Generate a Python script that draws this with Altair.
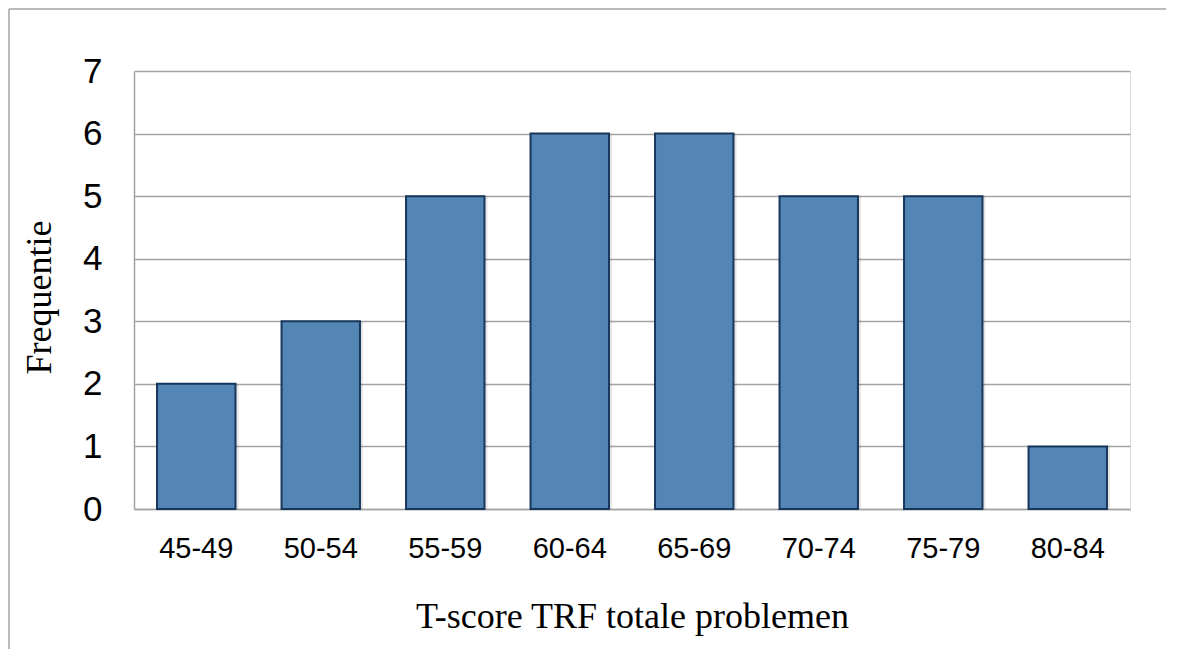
import altair as alt
import pandas as pd

categories = ["45-49", "50-54", "55-59", "60-64", "65-69", "70-74", "75-79", "80-84"]
frequencies = [2, 3, 5, 6, 6, 5, 5, 1]
y_ticks = [0, 1, 2, 3, 4, 5, 6, 7]

df = pd.DataFrame({"klasse": categories, "frequentie": frequencies})

GRID = "#A3A3A3"

x_enc = alt.X(
    "klasse:N",
    sort=categories,
    scale=alt.Scale(paddingInner=0.37, paddingOuter=0.185),
    axis=alt.Axis(
        title="T-score TRF totale problemen",
        titleFont="Liberation Serif",
        titleFontSize=36,
        titleFontWeight="normal",
        titleColor="#000000",
        titleBaseline="alphabetic",
        titleY=118,
        labelAngle=0,
        labelFont="Liberation Sans",
        labelFontSize=29,
        labelColor="#000000",
        labelBaseline="alphabetic",
        labelPadding=48,
        ticks=False,
        tickSize=0,
        domainColor=GRID,
        domainWidth=1.5,
        grid=False,
    ),
)
y_enc = alt.Y(
    "frequentie:Q",
    scale=alt.Scale(domain=[0, 7], nice=False),
    axis=alt.Axis(
        title="Frequentie",
        values=y_ticks,
        titleFont="Liberation Serif",
        titleFontSize=36,
        titleFontWeight="normal",
        titleColor="#000000",
        titleBaseline="alphabetic",
        titleAngle=270,
        titleAlign="center",
        titleX=-84,
        titleY=226,
        labelFont="Liberation Sans",
        labelFontSize=35,
        labelColor="#000000",
        labelPadding=32,
        ticks=False,
        tickSize=0,
        domainColor=GRID,
        domainWidth=1.5,
        grid=True,
        gridColor=GRID,
        gridWidth=1.5,
    ),
)

shadow = alt.Chart(df).mark_bar(
    color="#000000", opacity=0.10, xOffset=3
).encode(x=x_enc, y=y_enc)

bars = alt.Chart(df).mark_bar(
    color="#5486B5", stroke="#17365C", strokeWidth=2
).encode(x=x_enc, y=y_enc)

frame_data = alt.Data(values=[{"k": 1}])
frame_top = alt.Chart(frame_data).mark_rule(color=GRID, strokeWidth=1.5).encode(
    x=alt.value(-125), x2=alt.value(1040), y=alt.value(-62)
)
frame_left = alt.Chart(frame_data).mark_rule(color=GRID, strokeWidth=1.5).encode(
    x=alt.value(-125), y=alt.value(-62), y2=alt.value(700)
)

chart = alt.layer(frame_top, frame_left, shadow, bars).properties(
    width=996,
    height=438,
    autosize=alt.AutoSizeParams(type="none"),
    padding={"left": 126, "top": 63, "right": 36, "bottom": 140},
).configure_view(stroke=None).configure(background="#FFFFFF")

chart.save("out.html", embed_options={"renderer": "svg", "actions": False})
